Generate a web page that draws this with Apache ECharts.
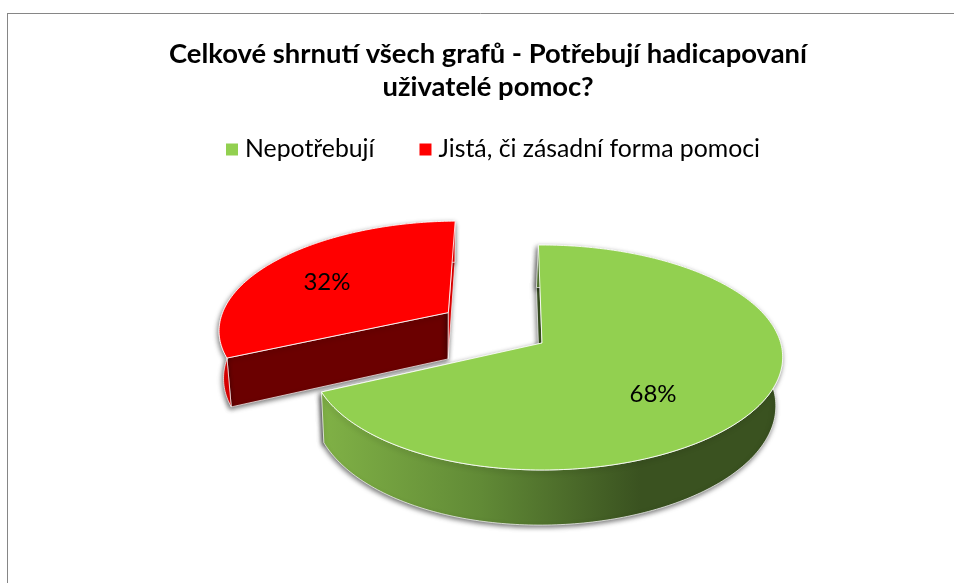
<!DOCTYPE html>
<html>
<head>
<meta charset="utf-8">
<title>Celkové shrnutí</title>
<script src="https://cdn.jsdelivr.net/npm/echarts@6/dist/echarts.min.js"></script>
<style>
    html, body {margin: 0; padding: 0; background: #fff;}
    #chart {width: 954px; height: 583px;}
</style>
</head>
<body>
<div id="chart"></div>
<script>
var aCategory = ['Nepotřebují', 'Jistá, či zásadní forma pomoci'];
var aValue = [68.4, 31.6]; // labels in the picture are rounded to 68% and 32%
var sTitle = 'Celkové shrnutí všech grafů - Potřebují hadicapovaní\nuživatelé pomoc?';

// colours and exploded offset per slice, same order as aCategory
var aTopColor = ['#92D050', '#FF0000'];
var aExplode = [[0, 0], [-0.415, -0.285]];
var aLabelOffset = [[0.444, 0.436], [-0.574, -0.305]]; // label spot on the unit disc, from the slice tip
var aSkew = [0.02, 0]; // right side of the big slice is a bit wider than its left one

// flat perspective of the tilted disc
var iCenterX = 542, iCenterY = 343;
var iRadiusX = 234, iRadiusY = 110.6;
var fPersp = 0.129;
var iDepth = 48;
var fBottomShrink = 0.98;
var fStartAngle = -1;
var sFont = 'Lato, "Open Sans", sans-serif';

// u,v on the unit disc -> screen point, bBottom for the lower face
function Project(iIndex, u, v, bBottom) {
    var w = 1 - fPersp * v;
    var x = iCenterX + iRadiusX * u / w * (1 + aSkew[iIndex] * u);
    var y = iCenterY + iRadiusY * v / w;
    if (bBottom) {
        x = iCenterX - 2 + (x - iCenterX) * fBottomShrink;
        y = y + iDepth / w;
    }
    return [x, y];
}

function GetRim(iIndex, fFrom, fTo, bBottom) {
    var aPoints = [];
    var iSteps = Math.ceil(fTo - fFrom);
    for (var i = 0; i <= iSteps; i++) {
        var r = (fFrom + (fTo - fFrom) * i / iSteps) * Math.PI / 180;
        aPoints.push(Project(iIndex, aExplode[iIndex][0] + Math.sin(r), aExplode[iIndex][1] - Math.cos(r), bBottom));
    }
    return aPoints;
}

function GetSliceAngles(iIndex) {
    var fTotal = 0, fBefore = 0;
    for (var i = 0; i < aValue.length; i++) {
        fTotal += aValue[i];
        if (i < iIndex) fBefore += aValue[i];
    }
    var fFrom = fStartAngle + fBefore / fTotal * 360;
    return [fFrom, fFrom + aValue[iIndex] / fTotal * 360];
}

function RenderSlice(params, api) {
    var iIndex = params.seriesIndex;
    var aAngle = GetSliceAngles(iIndex);
    var u0 = aExplode[iIndex][0];
    var v0 = aExplode[iIndex][1];

    var aTop = GetRim(iIndex, aAngle[0], aAngle[1], false);
    var aBottom = GetRim(iIndex, aAngle[0], aAngle[1], true);
    var aTipTop = Project(iIndex, u0, v0, false);
    var aTipBottom = Project(iIndex, u0, v0, true);

    var oShadow = {shadowBlur: 5, shadowColor: 'rgba(0,0,0,0.55)', shadowOffsetX: -1, shadowOffsetY: 2};
    var oWall, sCutStart, sCutEnd;
    if (iIndex === 0) {
        oWall = new echarts.graphic.LinearGradient(322, 0, 640, 0, [
            {offset: 0, color: '#80B146'},
            {offset: 0.5, color: '#618A36'},
            {offset: 1, color: '#3A5220'}
        ], true);
        sCutStart = '#3A5220';
        sCutEnd = '#7BAA42';
    } else {
        oWall = '#E60000';
        sCutStart = '#6B0000';
        sCutEnd = '#EE0000';
    }

    function Part(aPoints, fill, bShadow, fStroke) {
        var oStyle = {fill: fill, stroke: 'rgba(255,255,255,' + fStroke + ')', lineWidth: 1};
        if (bShadow) {
            for (var k in oShadow) oStyle[k] = oShadow[k];
        }
        return {type: 'polygon', shape: {points: aPoints}, style: oStyle, silent: true};
    }

    var aLast = aTop.length - 1;
    var aChildren = [
        // cut faces first, then the outer wall, the top face goes over them
        Part([aTipTop, aTop[0], aBottom[0], aTipBottom], sCutStart, true, 0.7),
        Part([aTipTop, aTop[aLast], aBottom[aLast], aTipBottom], sCutEnd, true, 0.7),
        Part(aTop.concat(aBottom.slice().reverse()), oWall, true, 0.7),
        Part([aTipTop].concat(aTop), aTopColor[iIndex], false, 0.85)
    ];

    var aLabelAt = Project(iIndex, u0 + aLabelOffset[iIndex][0], v0 + aLabelOffset[iIndex][1], false);
    aChildren.push({
        type: 'text',
        silent: true,
        style: {
            text: Math.round(api.value(0)) + '%',
            x: aLabelAt[0],
            y: aLabelAt[1],
            align: 'center',
            verticalAlign: 'middle',
            fill: '#000',
            font: '24px ' + sFont
        }
    });
    return {type: 'group', children: aChildren};
}

function GetSeries() {
    var aSeries = [];
    for (var i = 0; i < aCategory.length; i++) {
        aSeries.push({
            name: aCategory[i],
            type: 'custom',
            coordinateSystem: 'none',
            z: aCategory.length - i,
            silent: true,
            itemStyle: {color: aTopColor[i]},
            renderItem: RenderSlice,
            data: [[aValue[i]]]
        });
    }
    return aSeries;
}

var jOption = {
    animation: false,
    backgroundColor: '#fff',
    title: {
        text: sTitle,
        left: 483,
        top: 33,
        textAlign: 'center',
        textStyle: {
            fontFamily: sFont,
            fontWeight: 'bold',
            fontSize: 27.4,
            lineHeight: 33,
            color: '#000'
        }
    },
    legend: {
        data: aCategory,
        left: 221,
        top: 132,
        icon: 'rect',
        itemWidth: 12,
        itemHeight: 12,
        itemGap: 45,
        textStyle: {
            fontFamily: sFont,
            fontSize: 24.8,
            color: '#000',
            padding: [0, 0, 0, 2]
        }
    },
    // frame of the embedded chart, only top and left stay in the crop
    graphic: [
        {type: 'line', silent: true, shape: {x1: 7, y1: 13.5, x2: 954, y2: 13.5}, style: {stroke: '#868686', lineWidth: 1}},
        {type: 'line', silent: true, shape: {x1: 7.5, y1: 13, x2: 7.5, y2: 583}, style: {stroke: '#868686', lineWidth: 1}}
    ],
    series: GetSeries()
};

var oChart = echarts.init(document.getElementById('chart'));
oChart.setOption(jOption);
</script>
</body>
</html>
